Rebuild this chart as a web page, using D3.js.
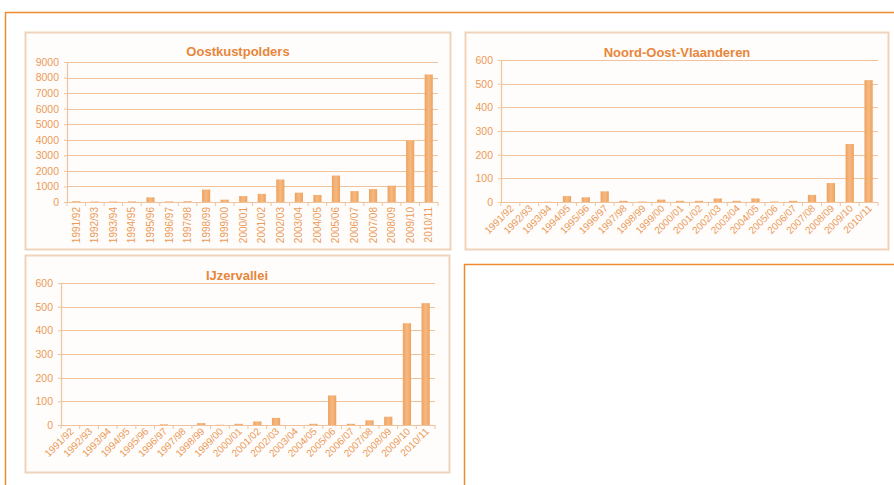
<!DOCTYPE html>
<html>
<head>
<meta charset="utf-8">
<script src="https://cdn.jsdelivr.net/npm/d3@7"></script>
<style>
  body { margin: 0; background: #fff; }
  svg { display: block; font-family: "Liberation Sans", Arial, sans-serif; }
</style>
</head>
<body>
<svg width="894" height="485"></svg>
<script>
// seasons shared by all three charts
const seasons = ["1991/92","1992/93","1993/94","1994/95","1995/96","1996/97","1997/98","1998/99","1999/00","2000/01",
  "2001/02","2002/03","2003/04","2004/05","2005/06","2006/07","2007/08","2008/09","2009/10","2010/11"];

const oostkustpolders = [50, 30, 30, 40, 300, 40, 50, 800, 150, 380, 520, 1450, 600, 450, 1700, 700, 830, 1050, 3950, 8200];
const noordOostVlaanderen = [0, 0, 1, 25, 20, 45, 5, 2, 10, 5, 5, 15, 5, 15, 2, 5, 30, 80, 245, 515];
const ijzervallei = [0, 0, 0, 0, 0, 3, 0, 8, 1, 5, 15, 30, 0, 5, 125, 5, 20, 35, 430, 515];

const ticksOost = [0,1000,2000,3000,4000,5000,6000,7000,8000,9000];
const ticks600 = [0,100,200,300,400,500,600];

const orange = "#EE8A33";
const titleCol = "#E8863A";
const labelCol = "#EC9A57";
const gridCol = "#F0C39C";

const svg = d3.select("svg");

// bar gradient, a bit darker at the edges
const grad = svg.append("defs").append("linearGradient").attr("id", "barGrad");
grad.append("stop").attr("offset", "0%").attr("stop-color", "#EFA35E");
grad.append("stop").attr("offset", "50%").attr("stop-color", "#F5B983");
grad.append("stop").attr("offset", "100%").attr("stop-color", "#EFA35E");

// outer page frame lines
svg.append("path").attr("d", "M5.5,485 V12.5 H894").attr("fill", "none").attr("stroke", orange).attr("stroke-width", 1.5);
svg.append("path").attr("d", "M464.5,485 V264.5 H894").attr("fill", "none").attr("stroke", orange).attr("stroke-width", 1.5);

function drawPanel(cfg) {
  const g = svg.append("g");

  // panel box
  g.append("rect")
    .attr("x", cfg.box[0] + 0.5).attr("y", cfg.box[1] + 0.5)
    .attr("width", cfg.box[2] - cfg.box[0]).attr("height", cfg.box[3] - cfg.box[1])
    .attr("fill", "#FEFDFC").attr("stroke", "#EFD3BA").attr("stroke-width", 2);

  const x = d3.scaleBand().domain(seasons).range([cfg.plot[0], cfg.plot[2]]).paddingInner(0.56).paddingOuter(0.28);
  const y = d3.scaleLinear().domain([0, cfg.max]).range([cfg.plot[3], cfg.plot[1]]);

  // gridlines
  g.selectAll(".grid").data(cfg.ticks.filter(t => t > 0)).join("line")
    .attr("x1", cfg.plot[0]).attr("x2", cfg.plot[2])
    .attr("y1", d => Math.round(y(d)) + 0.5).attr("y2", d => Math.round(y(d)) + 0.5)
    .attr("stroke", gridCol).attr("stroke-width", 1.2);

  // bars
  g.selectAll(".bar").data(cfg.values).join("rect")
    .attr("x", (d, i) => x(seasons[i]))
    .attr("width", x.bandwidth())
    .attr("y", d => y(d))
    .attr("height", d => y(0) - y(d))
    .attr("fill", "url(#barGrad)");

  // y axis
  const ya = g.append("g").attr("transform", `translate(${cfg.plot[0]},0)`)
    .call(d3.axisLeft(y).tickValues(cfg.ticks).tickSize(3).tickPadding(5).tickFormat(d3.format("d")));
  ya.select(".domain").attr("stroke", gridCol).attr("stroke-width", 1.2);
  ya.selectAll(".tick line").attr("stroke", gridCol);
  ya.selectAll("text").attr("fill", labelCol).style("font-size", "10.5px");

  // x axis line with ticks on band edges
  const edges = d3.range(seasons.length + 1).map(i => cfg.plot[0] + (cfg.plot[2] - cfg.plot[0]) * i / seasons.length);
  g.append("line").attr("x1", cfg.plot[0]).attr("x2", cfg.plot[2])
    .attr("y1", y(0) + 0.5).attr("y2", y(0) + 0.5).attr("stroke", gridCol).attr("stroke-width", 1.2);
  g.selectAll(".xt").data(edges).join("line")
    .attr("x1", d => d).attr("x2", d => d)
    .attr("y1", y(0)).attr("y2", y(0) + 4).attr("stroke", gridCol);

  // x labels
  g.selectAll(".xl").data(seasons).join("text")
    .attr("transform", d => {
      const cx = x(d) + x.bandwidth() / 2;
      return `translate(${cx + (cfg.rot === -90 ? 3.5 : 4)},${y(0) + (cfg.rot === -90 ? 5 : 7)}) rotate(${cfg.rot})`;
    })
    .attr("text-anchor", "end")
    .attr("fill", labelCol)
    .style("font-size", "10px")
    .text(d => d);

  // title
  g.append("text")
    .attr("x", cfg.titleX).attr("y", cfg.titleY)
    .attr("text-anchor", "middle")
    .attr("fill", titleCol)
    .style("font-size", "13px").style("font-weight", "bold")
    .text(cfg.title);
}

drawPanel({ title: "Oostkustpolders", values: oostkustpolders, max: 9000, ticks: ticksOost,
  box: [25, 32, 450, 249], plot: [67, 62, 438, 202], rot: -90, titleX: 238, titleY: 56 });
drawPanel({ title: "Noord-Oost-Vlaanderen", values: noordOostVlaanderen, max: 600, ticks: ticks600,
  box: [465, 32, 888, 249], plot: [501, 60, 878, 202], rot: -45, titleX: 677, titleY: 57 });
drawPanel({ title: "IJzervallei", values: ijzervallei, max: 600, ticks: ticks600,
  box: [25, 255, 449, 472], plot: [61, 283, 435, 425], rot: -45, titleX: 237, titleY: 280 });
</script>
</body>
</html>
